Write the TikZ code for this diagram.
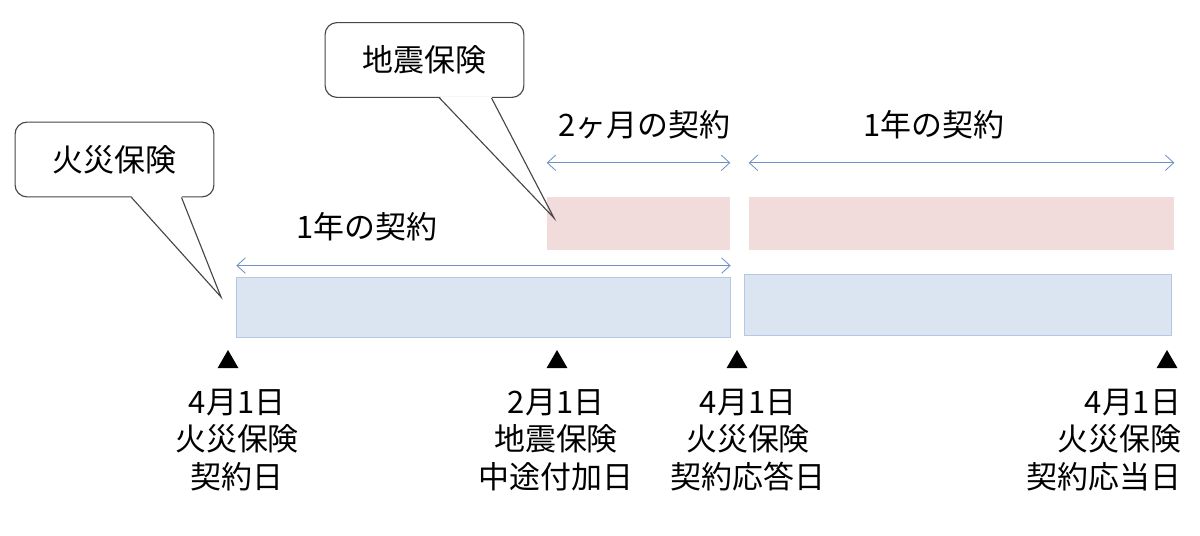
\documentclass[tikz,border=0pt]{standalone}
\usepackage{fontspec}
\newfontfamily\jpfont{Noto Sans CJK JP}
\usetikzlibrary{calc,arrows.meta,shapes.geometric}

\definecolor{barblue}{RGB}{219,228,241}
\definecolor{barblueline}{RGB}{180,200,228}
\definecolor{barpink}{RGB}{242,220,219}
\definecolor{spanblue}{RGB}{110,146,196}
\definecolor{notegray}{RGB}{70,70,70}

\begin{document}
\begin{tikzpicture}[x=0.025cm,y=-0.025cm,
  every node/.style={font=\jpfont\fontsize{22}{26.5}\selectfont},
  notebox/.style={draw=notegray, fill=white, rounded corners=0.3cm, line width=0.8pt, minimum width=4.97cm, minimum height=1.87cm},
  tailline/.style={draw=notegray, line width=0.8pt},
  firebar/.style={fill=barblue, draw=barblueline, line width=0.7pt, minimum height=1.52cm, inner sep=0},
  quakebar/.style={fill=barpink, minimum height=1.32cm, inner sep=0},
  spanarrow/.style={draw=spanblue, line width=0.6pt, {Straight Barb[length=6pt,width=11pt]}-{Straight Barb[length=6pt,width=11pt]}},
  daymark/.style={regular polygon, regular polygon sides=3, fill=black, minimum size=0.6cm, inner sep=0},
  datelabel/.style={align=center}]
    \useasboundingbox (0,0) rectangle (1200,536);
    \node[notebox] (fireNote) at (114.5,159.5) {火災保険};
    \node[notebox] (quakeNote) at (424.5,60) {地震保険};
    \coordinate (fireTip) at (221,297);
    \coordinate (quakeTip) at (554,218);
    \fill[white] ($(fireNote.south west)+(117,-1.5)$) -- (fireTip) -- ($(fireNote.south west)+(167,-1.5)$) -- cycle;
    \fill[white] ($(quakeNote.south west)+(115,-1.5)$) -- (quakeTip) -- ($(quakeNote.south west)+(167,-1.5)$) -- cycle;
    \node[firebar, minimum width=12.33cm] (fireA) at (483.5,307.5) {};
    \node[firebar, minimum width=10.65cm] (fireB) at (958,305) {};
    \node[quakebar, minimum width=4.575cm] (quakeA) at (638.5,223.5) {};
    \node[quakebar, minimum width=10.625cm] (quakeB) at (961.5,223.5) {};
    \draw[tailline] ($(fireNote.south west)+(117,0)$) -- (fireTip) -- ($(fireNote.south west)+(167,0)$);
    \draw[tailline] ($(quakeNote.south west)+(115,0)$) -- (quakeTip) -- ($(quakeNote.south west)+(167,0)$);
    \draw[spanarrow] ([yshift=0.275cm]fireA.north west) -- ([yshift=0.275cm]fireA.north east);
    \draw[spanarrow] ([yshift=0.85cm]quakeA.north west) -- ([yshift=0.85cm]quakeA.north east);
    \draw[spanarrow] ([yshift=0.85cm]quakeB.north west) -- ([yshift=0.85cm]quakeB.north east);
    \node (fireSpan) at (367,227) {1年の契約};
    \node (quakeSpanA) at (644,125) {2ヶ月の契約};
    \node (quakeSpanB) at (934,125) {1年の契約};
    \node[daymark] (dayA) at (228,362) {};
    \node[daymark] (dayB) at (557,362) {};
    \node[daymark] (dayC) at (737,362) {};
    \node[daymark] (dayD) at (1167,362) {};
    \node[datelabel] (dateA) at (237,440) {4月1日\\火災保険\\契約日};
    \node[datelabel] (dateB) at (556,440) {2月1日\\地震保険\\中途付加日};
    \node[datelabel] (dateC) at (748,440) {4月1日\\火災保険\\契約応答日};
    \node[datelabel, anchor=east, align=right] (dateD) at (1186,440) {4月1日\\火災保険\\契約応当日};
\end{tikzpicture}
\end{document}
